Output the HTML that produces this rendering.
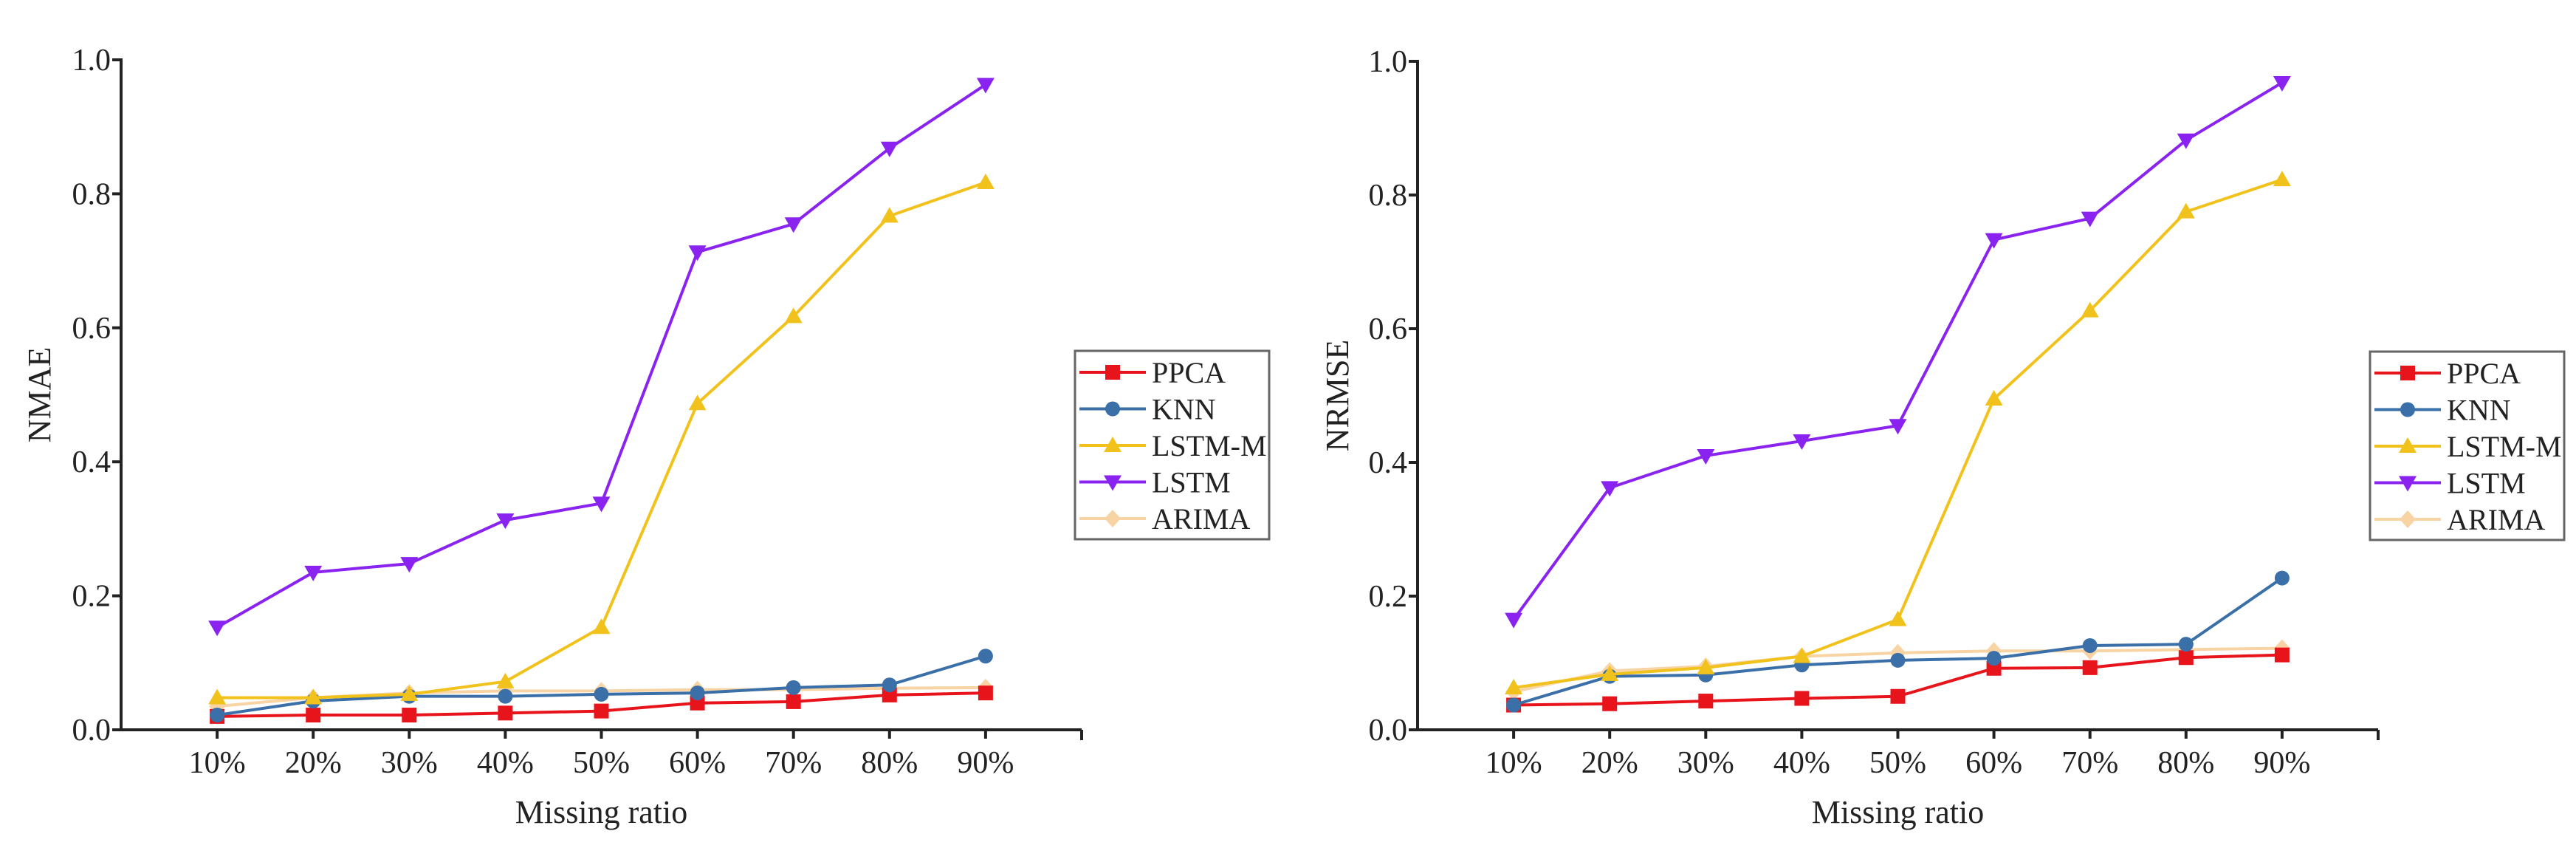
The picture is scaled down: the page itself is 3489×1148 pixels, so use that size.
<!DOCTYPE html>
<html><head><meta charset="utf-8"><style>
html,body{margin:0;padding:0;background:#fff;}
svg{display:block;}
text{font-family:"Liberation Serif",serif;fill:#222;}
</style></head><body>
<svg id="svg" width="3489" height="1148" viewBox="0 0 3489 1148"></svg>
<script>
const categories = ["10%","20%","30%","40%","50%","60%","70%","80%","90%"];
const yTicks = [0,0.2,0.4,0.6,0.8,1.0];
const yTickLabels = ["0.0","0.2","0.4","0.6","0.8","1.0"];
const seriesNames = ["PPCA","KNN","LSTM-M","LSTM","ARIMA"];
const nmaePPCA  = [0.020,0.022,0.022,0.025,0.028,0.040,0.042,0.052,0.055];
const nmaeKNN   = [0.022,0.043,0.050,0.050,0.053,0.055,0.063,0.067,0.110];
const nmaeLSTMM = [0.048,0.048,0.053,0.072,0.153,0.487,0.617,0.767,0.817];
const nmaeLSTM  = [0.153,0.235,0.248,0.313,0.338,0.713,0.755,0.868,0.963];
const nmaeARIMA = [0.035,0.048,0.055,0.058,0.058,0.060,0.060,0.062,0.063];
const nrmsePPCA  = [0.037,0.039,0.043,0.047,0.050,0.092,0.093,0.108,0.112];
const nrmseKNN   = [0.037,0.080,0.082,0.097,0.104,0.107,0.126,0.128,0.227];
const nrmseLSTMM = [0.063,0.083,0.093,0.110,0.165,0.495,0.627,0.775,0.823];
const nrmseLSTM  = [0.165,0.362,0.410,0.432,0.455,0.733,0.765,0.882,0.968];
const nrmseARIMA = [0.057,0.088,0.095,0.110,0.115,0.118,0.118,0.120,0.122];

const colors = ["#e8141c","#3a6fa8","#f2c21c","#8a22f0","#f8d4a4"];
const markers = ["square","circle","up","down","diamond"];
const NS="http://www.w3.org/2000/svg";
const svg=document.getElementById('svg');
function mk(tag,attrs,parent){const e=document.createElementNS(NS,tag);for(const k in attrs)e.setAttribute(k,attrs[k]);(parent||svg).appendChild(e);return e;}

function marker(g,type,x,y,c){
  const s=10;let e;
  if(type==="square") e=mk('rect',{x:x-s,y:y-s,width:2*s,height:2*s,fill:c},g);
  else if(type==="circle") e=mk('circle',{cx:x,cy:y,r:s,fill:c},g);
  else if(type==="up") e=mk('polygon',{points:`${x},${y-12} ${x+12},${y+9} ${x-12},${y+9}`,fill:c},g);
  else if(type==="down") e=mk('polygon',{points:`${x},${y+12} ${x+12},${y-9} ${x-12},${y-9}`,fill:c},g);
  else e=mk('polygon',{points:`${x},${y-12} ${x+11},${y} ${x},${y+12} ${x-11},${y}`,fill:c},g);
  return e;
}

function chart(cfg){
  const g=mk('g',{});
  
  
  const X0=cfg.x0,X1=cfg.x1,Y0=cfg.y0,Y1=cfg.y1;
  const xs=i=>X0+(i+1)*(X1-X0)/(categories.length+1);
  const ys=v=>Y0-(v)*(Y0-Y1);
  // axes
  const ya=mk('line',{x1:X0,y1:Y0+2,x2:X0,y2:Y1-2,stroke:'#222','stroke-width':4},g);
  
  
  const xa=mk('line',{x1:X0-2,y1:Y0,x2:X1,y2:Y0,stroke:'#222','stroke-width':4},g);
  
  
  mk('line',{x1:X1,y1:Y0,x2:X1,y2:Y0+14,stroke:'#222','stroke-width':4},g);
  yTicks.forEach((t,i)=>{
    const y=ys(t);
    mk('line',{x1:X0-12,y1:y,x2:X0,y2:y,stroke:'#222','stroke-width':4},g);
    const tx=mk('text',{x:X0-14,y:y+14,'text-anchor':'end','font-size':42},g);
    tx.textContent=yTickLabels[i];
    
    
  });
  categories.forEach((c,i)=>{
    const x=xs(i);
    mk('line',{x1:x,y1:Y0,x2:x,y2:Y0+12,stroke:'#222','stroke-width':4},g);
    const tx=mk('text',{x:x,y:Y0+58,'text-anchor':'middle','font-size':42},g);
    tx.textContent=c;
    
    
  });
  const xl=mk('text',{x:(X0+X1)/2,y:Y0+126,'text-anchor':'middle','font-size':44},g);
  xl.textContent='Missing ratio';
  
  
  const yl=mk('text',{x:0,y:0,'text-anchor':'middle','font-size':44,transform:`translate(${cfg.ylx},${(Y0+Y1)/2}) rotate(-90)`},g);
  yl.textContent=cfg.ylabel;
  
  
  // series, draw ARIMA first then others
  const order=[4,0,1,2,3];
  order.forEach(si=>{
    const data=cfg.series[si];
    const sg=mk('g',{},g);
    
    
    mk('polyline',{points:data.map((v,i)=>xs(i)+','+ys(v)).join(' '),fill:'none',stroke:colors[si],'stroke-width':4,'stroke-linejoin':'round'},sg);
    data.forEach((v,i)=>{
      const m=marker(sg,markers[si],xs(i),ys(v),colors[si]);
      
      
    });
  });
  // legend
  const lg=mk('g',{},g);
  
  
  mk('rect',{x:cfg.lx,y:cfg.ly,width:cfg.lw,height:255,fill:'#fff',stroke:'#666','stroke-width':3},lg);
  seriesNames.forEach((n,i)=>{
    const y=cfg.ly+29+i*49.5;
    const eg=mk('g',{},lg);
    
    
    mk('line',{x1:cfg.lx+6,y1:y,x2:cfg.lx+96,y2:y,stroke:colors[i],'stroke-width':4},eg);
    marker(eg,markers[i],cfg.lx+51,y,colors[i]);
    const t=mk('text',{x:cfg.lx+104,y:y+14,'font-size':40},eg);
    t.textContent=n;
  });
}

chart({name:'nmae-chart',x0:164,x1:1465,y0:988,y1:81,ylx:68,ylabel:'NMAE',
  lx:1456,ly:475,lw:263,
  series:[nmaePPCA,nmaeKNN,nmaeLSTMM,nmaeLSTM,nmaeARIMA]});
chart({name:'nrmse-chart',x0:1920,x1:3221,y0:988,y1:83,ylx:1826,ylabel:'NRMSE',
  lx:3210,ly:476,lw:263,
  series:[nrmsePPCA,nrmseKNN,nrmseLSTMM,nrmseLSTM,nrmseARIMA]});
</script>
</body></html>
